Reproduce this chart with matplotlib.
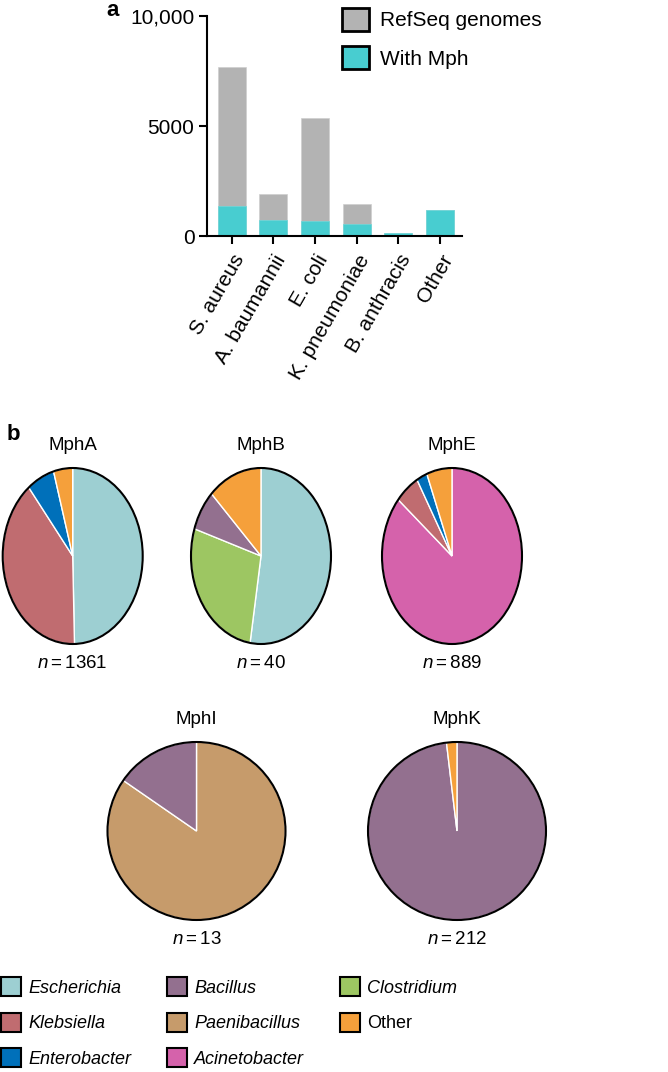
import matplotlib
matplotlib.use('Agg')
import matplotlib.pyplot as plt
from matplotlib.patches import Patch, Circle

plt.rcParams['font.family'] = ['Liberation Sans', 'DejaVu Sans']
plt.rcParams['mathtext.fontset'] = 'custom'
plt.rcParams['mathtext.rm'] = 'Liberation Sans'
plt.rcParams['mathtext.it'] = 'Liberation Sans:italic'

# panel a data
species = ['S. aureus', 'A. baumannii', 'E. coli', 'K. pneumoniae', 'B. anthracis', 'Other']
refseq_genomes = [7700, 1920, 5350, 1460, 120, 1180]
with_mph = [1360, 730, 680, 545, 120, 1180]

# panel b data
genera = ['Escherichia', 'Klebsiella', 'Enterobacter', 'Bacillus', 'Paenibacillus',
          'Acinetobacter', 'Clostridium', 'Other']
genus_colors = {'Escherichia': '#9dcfd2', 'Klebsiella': '#c06c70', 'Enterobacter': '#0070ba',
                'Bacillus': '#93708f', 'Paenibacillus': '#c69b6b', 'Acinetobacter': '#d562ab',
                'Clostridium': '#9dc662', 'Other': '#f5a03b'}

mphA_genera = ['Escherichia', 'Klebsiella', 'Enterobacter', 'Other']
mphA_counts = [675, 539, 87, 60]
mphB_genera = ['Escherichia', 'Clostridium', 'Bacillus', 'Other']
mphB_counts = [21, 11, 3, 5]
mphE_genera = ['Acinetobacter', 'Klebsiella', 'Enterobacter', 'Other']
mphE_counts = [765, 50, 22, 52]
mphI_genera = ['Paenibacillus', 'Bacillus']
mphI_counts = [11, 2]
mphK_genera = ['Bacillus', 'Other']
mphK_counts = [208, 4]

W, H = 668, 1072
fig = plt.figure(figsize=(W / 100, H / 100), dpi=100)


def box(left, top, right, bottom):
    # pixel box -> figure fraction
    return [left / W, 1 - bottom / H, (right - left) / W, (bottom - top) / H]


#panel a
ax = fig.add_axes(box(207, 16, 462, 236))
x = range(len(species))
ax.bar(x, refseq_genomes, width=0.67, color='#b3b3b3', edgecolor='#cfcfcf', linewidth=0.5)
ax.bar(x, with_mph, width=0.67, color='#48cdd0', edgecolor='#6fd8da', linewidth=0.5)
ax.set_xlim(-0.59, 5.53)
ax.set_ylim(0, 10000)
ax.set_yticks([0, 5000, 10000])
ax.set_yticklabels(['0', '5000', '10,000'])
ax.set_xticks(list(x))
ax.set_xticklabels(species, rotation=60, ha='right', rotation_mode='anchor')
ax.tick_params(labelsize=15, width=1.5, length=6, pad=3)
ax.tick_params(axis='x', pad=5)
for s in ['top', 'right']:
    ax.spines[s].set_visible(False)
for s in ['left', 'bottom']:
    ax.spines[s].set_linewidth(1.5)
handles = [Patch(facecolor='#b3b3b3', edgecolor='black', linewidth=2, label='RefSeq genomes'),
           Patch(facecolor='#48cdd0', edgecolor='black', linewidth=2, label='With Mph')]
ax.legend(handles=handles, loc='upper left', bbox_to_anchor=(342 / W, 1 - 8 / H),
          bbox_transform=fig.transFigure, frameon=False, fontsize=15,
          handlelength=1.3, handleheight=1.3, handletextpad=0.5, labelspacing=0.75,
          borderpad=0, borderaxespad=0)
fig.text(113 / W, 1 - 11 / H, 'a', fontsize=16, fontweight='bold', ha='center', va='center')

#panel b
fig.text(13 / W, 1 - 434 / H, 'b', fontsize=16, fontweight='bold', ha='center', va='center')

pies = [
    ('MphA', mphA_genera, mphA_counts, box(2.7, 468, 142.7, 644)),
    ('MphB', mphB_genera, mphB_counts, box(191, 468, 331, 644)),
    ('MphE', mphE_genera, mphE_counts, box(382, 468, 522, 644)),
    ('MphI', mphI_genera, mphI_counts, box(107.5, 742, 285.5, 920)),
    ('MphK', mphK_genera, mphK_counts, box(368, 742, 546, 920)),
]
for name, gen, counts, rect in pies:
    pax = fig.add_axes(rect)
    pax.pie(counts, colors=[genus_colors[g] for g in gen], startangle=90, counterclock=False,
            wedgeprops=dict(edgecolor='white', linewidth=1))
    pax.add_patch(Circle((0, 0), 1, fill=False, edgecolor='black', linewidth=1.5, clip_on=False))
    pax.set_aspect('auto')
    pax.set_xlim(-1, 1)
    pax.set_ylim(-1, 1)
    pax.axis('off')
    pax.annotate(name, xy=(0.5, 1), xycoords='axes fraction', xytext=(0, 23 * 0.72),
                 textcoords='offset points', ha='center', va='center', fontsize=13.5)
    pax.annotate(r'$n = %d$' % sum(counts), xy=(0.5, 0), xycoords='axes fraction',
                 xytext=(0, -19 * 0.72), textcoords='offset points', ha='center', va='center',
                 fontsize=13.5)

leg_handles = [Patch(facecolor=genus_colors[g], edgecolor='black', linewidth=1.5, label=g)
               for g in genera]
leg = fig.legend(handles=leg_handles, loc='upper left', bbox_to_anchor=(1 / W, 1 - 977 / H),
                 ncol=3, frameon=False, fontsize=13, handlelength=1.1, handleheight=1.25,
                 handletextpad=0.4, labelspacing=0.88, columnspacing=2.0,
                 borderpad=0, borderaxespad=0)
for t in leg.get_texts():
    if t.get_text() != 'Other':
        t.set_fontstyle('italic')

fig.savefig('out.png', dpi=100)
